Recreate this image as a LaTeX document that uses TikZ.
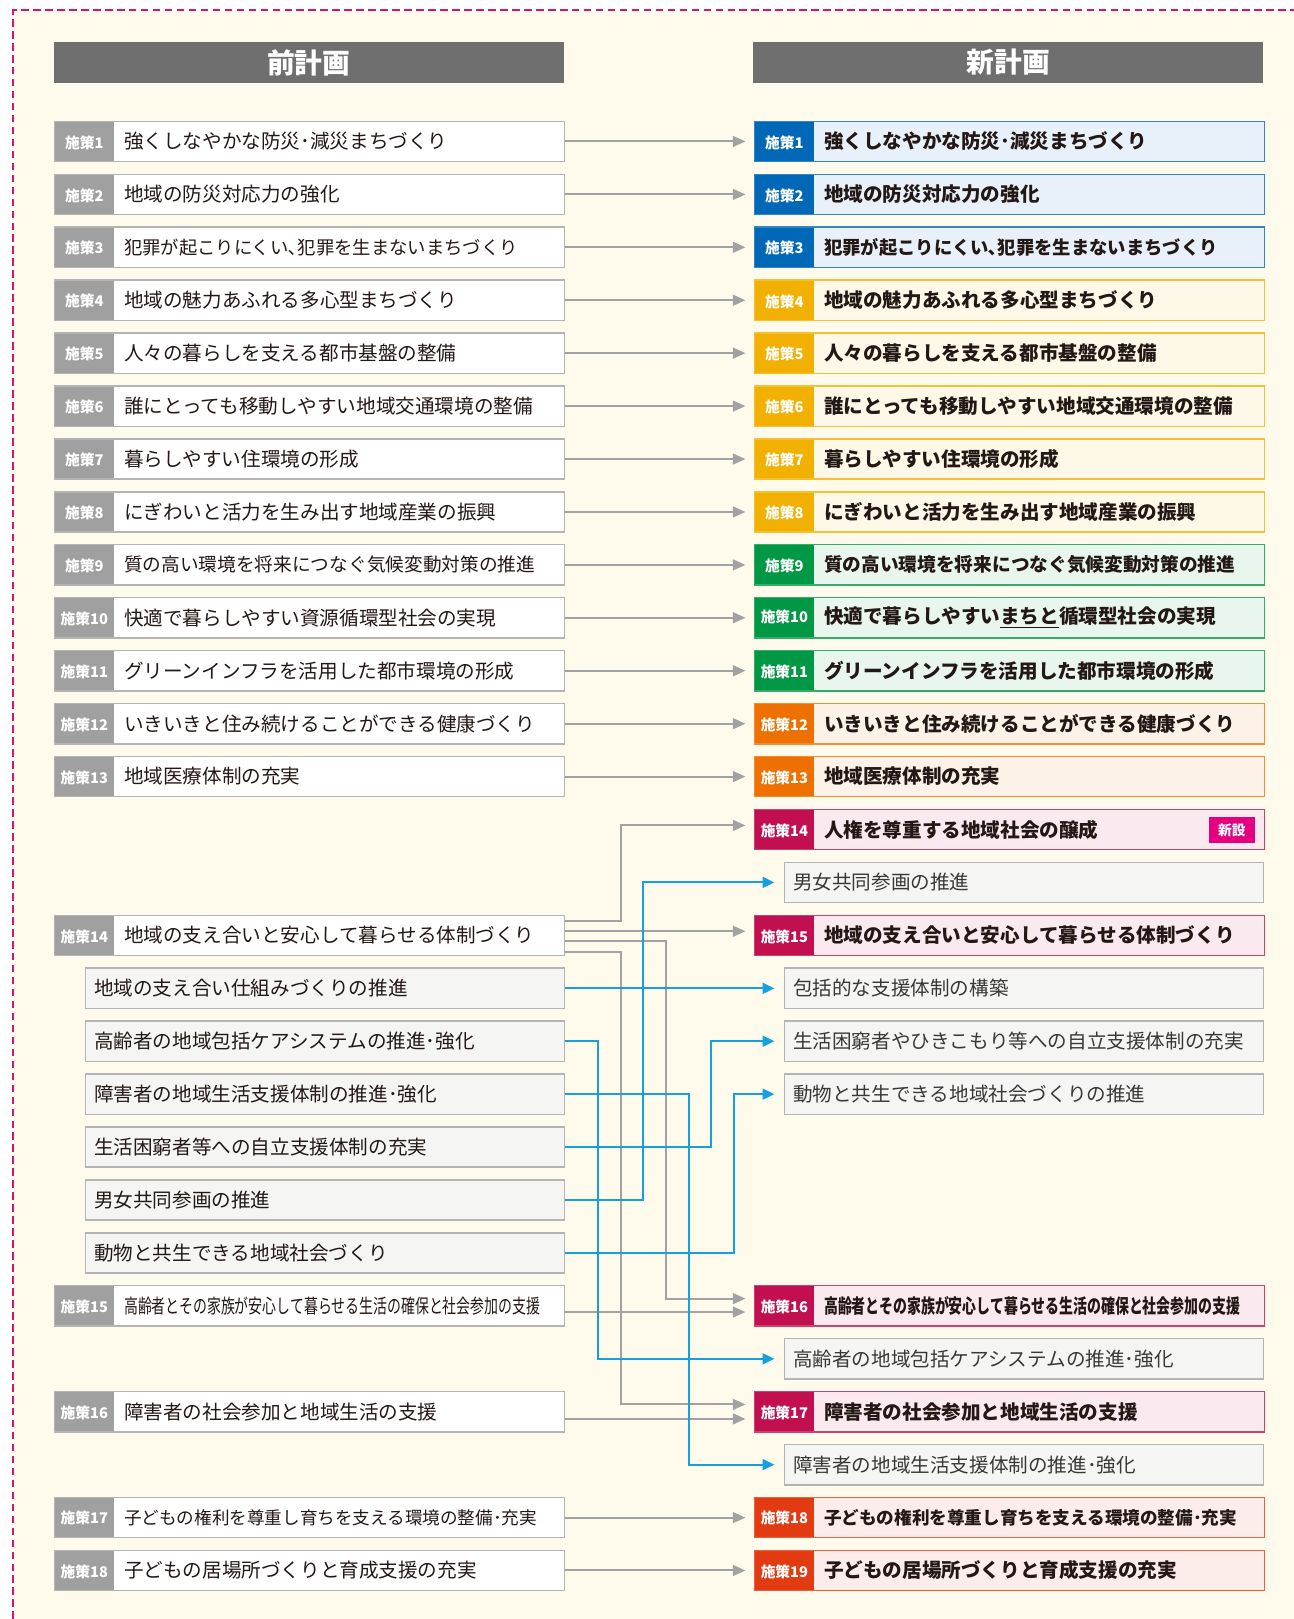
\documentclass[tikz,border=0pt]{standalone}
\usepackage{fontspec}
\setmainfont{Noto Sans CJK JP}
\usepackage{xcolor}
\usepackage{tikz}
\usetikzlibrary{arrows.meta}

\definecolor{bgcream}{HTML}{FEFBEC}
\definecolor{dashred}{HTML}{D3156F}
\definecolor{headgray}{HTML}{6F6F6F}
\definecolor{taggray}{HTML}{A0A0A0}
\definecolor{boxgray}{HTML}{B4B4B4}
\definecolor{subfill}{HTML}{F5F6F4}
\definecolor{arrgray}{HTML}{A2A2A2}
\definecolor{linkblue}{HTML}{16A0E0}
\definecolor{pblue}{HTML}{0068B7}
\definecolor{pyellow}{HTML}{F2B000}
\definecolor{pgreen}{HTML}{009844}
\definecolor{porange}{HTML}{EE7000}
\definecolor{pcrimson}{HTML}{C20F4F}
\definecolor{pred}{HTML}{E23B12}
\definecolor{newpink}{HTML}{E4007F}
\definecolor{inkblack}{HTML}{231815}

\newcommand{\tg}[1]{\makebox[1.16cm]{\raisebox{0.4pt}{\color{white}\fontsize{8.1pt}{9pt}\selectfont\bfseries 施策#1}}\hspace{0.19cm}}

\begin{document}
\begin{tikzpicture}[x=0.02cm, y=-0.02cm,
    head/.style={fill=headgray, text=white, minimum width=9.88cm, minimum height=0.78cm,
        inner sep=0pt, font=\fontsize{15.3pt}{18pt}\selectfont\bfseries},
    bx/.style={line width=0.8pt, anchor=west, minimum height=0.78cm, inner ysep=0pt,
        align=left, text=inkblack, font=\fontsize{10.8pt}{13pt}\selectfont},
    lbox/.style={bx, draw=boxgray, fill=white, text width=9.88cm, inner xsep=0pt,
        path picture={\fill[taggray] (path picture bounding box.north west)
            rectangle ([xshift=1.16cm]path picture bounding box.south west);}},
    rbox/.style={bx, draw=#1!80, fill=#1!9, text width=9.88cm, inner xsep=0pt,
        font=\fontsize{10.8pt}{13pt}\selectfont\bfseries,
        path picture={\fill[#1] (path picture bounding box.north west)
            rectangle ([xshift=1.16cm]path picture bounding box.south west);}},
    lsub/.style={bx, draw=boxgray, fill=subfill, text width=8.94cm, inner xsep=0.17cm},
    rsub/.style={lsub, text=black!78},
    newtag/.style={fill=newpink, text=white, minimum width=0.88cm, minimum height=0.5cm,
        inner sep=0pt, font=\fontsize{7.6pt}{8pt}\selectfont\bfseries},
    garr/.style={draw=arrgray, line width=1.1pt, -{Triangle[length=7pt,width=6pt]}, shorten >=0.16cm},
    barr/.style={draw=linkblue, line width=1.1pt, -{Triangle[length=6.5pt,width=6pt]}, shorten >=0.18cm}]

    \useasboundingbox (0,0) rectangle (1253,1568);
    \fill[bgcream] (13,10) rectangle (1253,1568);
    \draw[dashred, line width=1.1pt, dash pattern=on 4.2pt off 2.4pt] (13,1568) -- (13,10) -- (1253,10);

    % headers
    \node[head] (hOld) at (299,60.5) {前計画};
    \node[head] (hNew) at (976.5,60.5) {新計画};

    % old plan
    \node[lbox] (L1) at (52,137) {\tg{1}強くしなやかな防災･減災まちづくり};
    \node[lbox] (L2) at (52,188.3) {\tg{2}地域の防災対応力の強化};
    \node[lbox] (L3) at (52,239.5) {\tg{3}{\fontsize{10.1pt}{12pt}\selectfont 犯罪が起こりにくい､犯罪を生まないまちづくり}};
    \node[lbox] (L4) at (52,290.8) {\tg{4}地域の魅力あふれる多心型まちづくり};
    \node[lbox] (L5) at (52,342) {\tg{5}人々の暮らしを支える都市基盤の整備};
    \node[lbox] (L6) at (52,393.3) {\tg{6}誰にとっても移動しやすい地域交通環境の整備};
    \node[lbox] (L7) at (52,444.6) {\tg{7}暮らしやすい住環境の形成};
    \node[lbox] (L8) at (52,495.8) {\tg{8}にぎわいと活力を生み出す地域産業の振興};
    \node[lbox] (L9) at (52,547.1) {\tg{9}{\fontsize{10.3pt}{12pt}\selectfont 質の高い環境を将来につなぐ気候変動対策の推進}};
    \node[lbox] (L10) at (52,598.3) {\tg{10}快適で暮らしやすい資源循環型社会の実現};
    \node[lbox] (L11) at (52,649.6) {\tg{11}グリーンインフラを活用した都市環境の形成};
    \node[lbox] (L12) at (52,700.9) {\tg{12}いきいきと住み続けることができる健康づくり};
    \node[lbox] (L13) at (52,752.1) {\tg{13}地域医療体制の充実};
    \node[lbox] (L14) at (52,905.9) {\tg{14}地域の支え合いと安心して暮らせる体制づくり};
    \node[lsub] (L14a) at (82,957.2) {地域の支え合い仕組みづくりの推進};
    \node[lsub] (L14b) at (82,1008.4) {高齢者の地域包括ケアシステムの推進･強化};
    \node[lsub] (L14c) at (82,1059.7) {障害者の地域生活支援体制の推進･強化};
    \node[lsub] (L14d) at (82,1110.9) {生活困窮者等への自立支援体制の充実};
    \node[lsub] (L14e) at (82,1162.2) {男女共同参画の推進};
    \node[lsub] (L14f) at (82,1213.5) {動物と共生できる地域社会づくり};
    \node[lbox] (L15) at (52,1264.7) {\tg{15}\scalebox{0.71}[1]{高齢者とその家族が安心して暮らせる生活の確保と社会参加の支援}};
    \node[lbox] (L16) at (52,1367.2) {\tg{16}障害者の社会参加と地域生活の支援};
    \node[lbox] (L17) at (52,1469.8) {\tg{17}{\fontsize{9.7pt}{12pt}\selectfont 子どもの権利を尊重し育ちを支える環境の整備･充実}};
    \node[lbox] (L18) at (52,1521) {\tg{18}子どもの居場所づくりと育成支援の充実};

    % new plan
    \node[rbox=pblue] (R1) at (730,137) {\tg{1}強くしなやかな防災･減災まちづくり};
    \node[rbox=pblue] (R2) at (730,188.3) {\tg{2}地域の防災対応力の強化};
    \node[rbox=pblue] (R3) at (730,239.5) {\tg{3}{\fontsize{10.1pt}{12pt}\selectfont 犯罪が起こりにくい､犯罪を生まないまちづくり}};
    \node[rbox=pyellow] (R4) at (730,290.8) {\tg{4}地域の魅力あふれる多心型まちづくり};
    \node[rbox=pyellow] (R5) at (730,342) {\tg{5}人々の暮らしを支える都市基盤の整備};
    \node[rbox=pyellow] (R6) at (730,393.3) {\tg{6}誰にとっても移動しやすい地域交通環境の整備};
    \node[rbox=pyellow] (R7) at (730,444.6) {\tg{7}暮らしやすい住環境の形成};
    \node[rbox=pyellow] (R8) at (730,495.8) {\tg{8}にぎわいと活力を生み出す地域産業の振興};
    \node[rbox=pgreen] (R9) at (730,547.1) {\tg{9}{\fontsize{10.3pt}{12pt}\selectfont 質の高い環境を将来につなぐ気候変動対策の推進}};
    \node[rbox=pgreen] (R10) at (730,598.3) {\tg{10}快適で暮らしやすい\underline{まちと}循環型社会の実現};
    \node[rbox=pgreen] (R11) at (730,649.6) {\tg{11}グリーンインフラを活用した都市環境の形成};
    \node[rbox=porange] (R12) at (730,700.9) {\tg{12}いきいきと住み続けることができる健康づくり};
    \node[rbox=porange] (R13) at (730,752.1) {\tg{13}地域医療体制の充実};
    \node[rbox=pcrimson] (R14) at (730,803.4) {\tg{14}人権を尊重する地域社会の醸成};
    \node[newtag] (N14) at (1193,804) {新設};
    \node[rsub] (R14a) at (759,854.6) {男女共同参画の推進};
    \node[rbox=pcrimson] (R15) at (730,905.9) {\tg{15}地域の支え合いと安心して暮らせる体制づくり};
    \node[rsub] (R15a) at (759,957.2) {包括的な支援体制の構築};
    \node[rsub] (R15b) at (759,1008.4) {生活困窮者やひきこもり等への自立支援体制の充実};
    \node[rsub] (R15c) at (759,1059.7) {動物と共生できる地域社会づくりの推進};
    \node[rbox=pcrimson] (R16) at (730,1264.7) {\tg{16}\scalebox{0.71}[1]{高齢者とその家族が安心して暮らせる生活の確保と社会参加の支援}};
    \node[rsub] (R16a) at (759,1316) {高齢者の地域包括ケアシステムの推進･強化};
    \node[rbox=pcrimson] (R17) at (730,1367.2) {\tg{17}障害者の社会参加と地域生活の支援};
    \node[rsub] (R17a) at (759,1418.5) {障害者の地域生活支援体制の推進･強化};
    \node[rbox=pred] (R18) at (730,1469.8) {\tg{18}{\fontsize{9.7pt}{12pt}\selectfont 子どもの権利を尊重し育ちを支える環境の整備･充実}};
    \node[rbox=pred] (R19) at (730,1521) {\tg{19}子どもの居場所づくりと育成支援の充実};

    % vertical channels
    \coordinate (cv1) at (579,0);
    \coordinate (cv2) at (601,0);
    \coordinate (cv3) at (623,0);
    \coordinate (cv4) at (645,0);
    \coordinate (cv5) at (667,0);
    \coordinate (cv6) at (689,0);
    \coordinate (cv7) at (711,0);

    % ports off the centre line
    \coordinate (o14a) at ([yshift=0.28cm]L14.east);
    \coordinate (o14b) at ([yshift=0.08cm]L14.east);
    \coordinate (o14c) at ([yshift=-0.11cm]L14.east);
    \coordinate (o14d) at ([yshift=-0.32cm]L14.east);
    \coordinate (o15) at ([yshift=-0.12cm]L15.east);
    \coordinate (o16) at ([yshift=-0.14cm]L16.east);
    \coordinate (i14) at ([yshift=0.08cm]R14.west);
    \coordinate (i15) at ([yshift=0.08cm]R15.west);
    \coordinate (i16a) at ([yshift=0.14cm]R16.west);
    \coordinate (i16b) at ([yshift=-0.12cm]R16.west);
    \coordinate (i17a) at ([yshift=0.14cm]R17.west);
    \coordinate (i17b) at ([yshift=-0.14cm]R17.west);

    % gray links
    \draw[garr] (L1.east) -- (R1.west);
    \draw[garr] (L2.east) -- (R2.west);
    \draw[garr] (L3.east) -- (R3.west);
    \draw[garr] (L4.east) -- (R4.west);
    \draw[garr] (L5.east) -- (R5.west);
    \draw[garr] (L6.east) -- (R6.west);
    \draw[garr] (L7.east) -- (R7.west);
    \draw[garr] (L8.east) -- (R8.west);
    \draw[garr] (L9.east) -- (R9.west);
    \draw[garr] (L10.east) -- (R10.west);
    \draw[garr] (L11.east) -- (R11.west);
    \draw[garr] (L12.east) -- (R12.west);
    \draw[garr] (L13.east) -- (R13.west);
    \draw[garr] (o14a) -| (cv2 |- i14) -- (i14);
    \draw[garr] (o14b) -- (i15);
    \draw[garr] (o14c) -| (cv4 |- i16a) -- (i16a);
    \draw[garr] (o14d) -| (cv2 |- i17a) -- (i17a);
    \draw[garr] (o15) -- (i16b);
    \draw[garr] (o16) -- (i17b);
    \draw[garr] (L17.east) -- (R18.west);
    \draw[garr] (L18.east) -- (R19.west);

    % blue links
    \draw[barr] (L14a.east) -- (R15a.west);
    \draw[barr] (L14b.east) -| (cv1 |- R16a.west) -- (R16a.west);
    \draw[barr] (L14c.east) -| (cv5 |- R17a.west) -- (R17a.west);
    \draw[barr] (L14d.east) -| (cv6 |- R15b.west) -- (R15b.west);
    \draw[barr] (L14e.east) -| (cv3 |- R14a.west) -- (R14a.west);
    \draw[barr] (L14f.east) -| (cv7 |- R15c.west) -- (R15c.west);

\end{tikzpicture}
\end{document}
